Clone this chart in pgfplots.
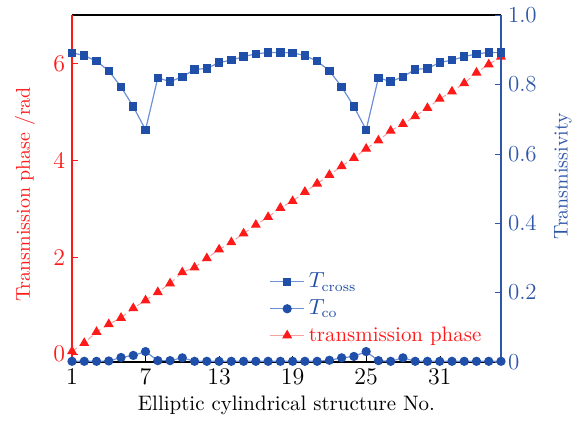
\documentclass[border=0pt]{standalone}
\usepackage{pgfplots}
\pgfplotsset{compat=1.18}
\definecolor{mblue}{HTML}{1F4FA8}
\definecolor{lblue}{HTML}{6E90D6}
\definecolor{axblue}{HTML}{2F57A8}
\definecolor{mred}{HTML}{FF1A1A}
\definecolor{lred}{HTML}{F7A0A0}
\begin{document}
\begin{tikzpicture}
\begin{axis}[
  scale only axis, width=214.5bp, height=173.5bp,
  clip=false,
  xmin=1, xmax=36, ymin=-0.16, ymax=7,
  axis x line*=box, axis y line*=left,
  xtick={1,7,13,19,25,31}, xtick pos=bottom,
  ytick={0,2,4,6},
  tick align=inside, major tick length=3bp,
  x axis line style={black, line width=0.8pt},
  y axis line style={mred, line width=0.6pt},
  xtick style={black}, ytick style={mred},
  tick label style={font=\fontsize{11.5}{13}\selectfont},
  yticklabel style={text=mred},
  xlabel={\fontsize{10.5}{12}\selectfont Elliptic cylindrical structure No.},
  ylabel={\textcolor{mred}{Transmission phase /rad}},
  xlabel style={at={(axis description cs:0.5,0)}, yshift=-21.5bp, anchor=center},
  ylabel style={at={(axis description cs:-0.1096,0.483)}, anchor=center},
]
\addplot[color=lred, densely dashed, line width=0.5pt, mark=triangle*, mark size=2.4bp, mark options={solid, fill=mred, draw=mred}] coordinates {
(1,0.06) (2,0.23) (3,0.46) (4,0.62) (5,0.75) (6,0.95) (7,1.11) (8,1.28) (9,1.46) (10,1.69)
(11,1.79) (12,1.98) (13,2.16) (14,2.31) (15,2.49) (16,2.67) (17,2.83) (18,3.02) (19,3.16) (20,3.35)
(21,3.52) (22,3.70) (23,3.88) (24,4.05) (25,4.24) (26,4.41) (27,4.61) (28,4.75) (29,4.91) (30,5.08)
(31,5.27) (32,5.42) (33,5.59) (34,5.81) (35,5.98) (36,6.14)};
\end{axis}
\begin{axis}[
  scale only axis, width=214.5bp, height=173.5bp,
  clip=false,
  xmin=1, xmax=36, ymin=0, ymax=1,
  axis x line=none, axis y line*=right,
  ytick={0,0.2,0.4,0.6,0.8,1.0},
  yticklabels={0,0.2,0.4,0.6,0.8,1.0},
  tick align=inside, major tick length=3bp,
  y axis line style={axblue, line width=0.6pt},
  ytick style={axblue},
  tick label style={font=\fontsize{11.5}{13}\selectfont},
  yticklabel style={text=axblue},
  ylabel={\textcolor{axblue}{Transmissivity}},
  ylabel style={at={(axis description cs:1.1445,0.535)}, anchor=center},
  legend style={draw=none, fill=none, at={(axis description cs:0.455,0.275)}, anchor=north west, row sep=0.5pt, inner sep=1pt, font=\fontsize{10.5}{12}\selectfont},
  legend cell align=left,
]
\addplot[color=lblue, line width=0.6pt, mark=square*, mark size=1.8bp, mark options={solid, fill=mblue, draw=mblue}] coordinates {
(1,0.891) (2,0.883) (3,0.867) (4,0.839) (5,0.793) (6,0.736) (7,0.669) (8,0.819) (9,0.808) (10,0.822)
(11,0.843) (12,0.846) (13,0.863) (14,0.870) (15,0.880) (16,0.888) (17,0.892) (18,0.892) (19,0.891) (20,0.883)
(21,0.867) (22,0.839) (23,0.793) (24,0.736) (25,0.669) (26,0.819) (27,0.808) (28,0.822) (29,0.843) (30,0.846)
(31,0.863) (32,0.870) (33,0.880) (34,0.888) (35,0.892) (36,0.892)};
\addlegendentry{\textcolor{mblue}{$T_{\mathrm{cross}}$}}
\addplot[color=lblue, line width=0.6pt, mark=*, mark size=2bp, mark options={solid, fill=mblue, draw=mblue}] coordinates {
(1,0.002) (2,0.002) (3,0.002) (4,0.003) (5,0.013) (6,0.019) (7,0.030) (8,0.004) (9,0.004) (10,0.012)
(11,0.002) (12,0.002) (13,0.002) (14,0.002) (15,0.002) (16,0.002) (17,0.002) (18,0.002) (19,0.002) (20,0.002)
(21,0.002) (22,0.005) (23,0.012) (24,0.016) (25,0.030) (26,0.004) (27,0.002) (28,0.012) (29,0.002) (30,0.002)
(31,0.002) (32,0.002) (33,0.002) (34,0.002) (35,0.002) (36,0.002)};
\addlegendentry{\textcolor{mblue}{$T_{\mathrm{co}}$}}
\addlegendimage{color=lred, line width=0.5pt, mark=triangle*, mark size=2.4bp, mark options={solid, fill=mred, draw=mred}}
\addlegendentry{\textcolor{mred}{transmission phase}}
\end{axis}
\path[use as bounding box] (-36bp,-30.5bp) rectangle (255.5bp,181bp);
\end{tikzpicture}
\end{document}
